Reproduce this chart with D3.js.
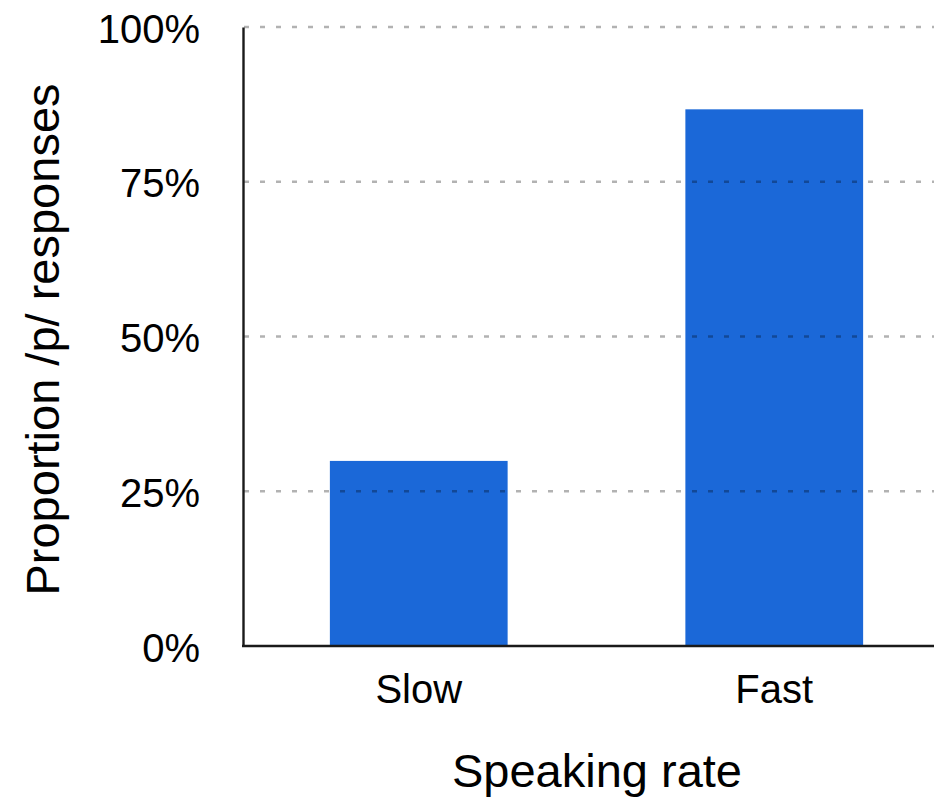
<!DOCTYPE html>
<html>
<head>
<meta charset="utf-8">
<script src="https://cdn.jsdelivr.net/npm/d3@7"></script>
<style>
  html, body { margin: 0; padding: 0; background: #fff; }
  svg { display: block; font-family: "Liberation Sans", Arial, Helvetica, sans-serif; }
</style>
</head>
<body>
<svg id="chart" width="934" height="798"></svg>
<script>
// Share of /p/ responses by speaking rate
const categories = ["Slow", "Fast"];
const proportions = [0.299, 0.867];
const yTicks = [0, 0.25, 0.5, 0.75, 1];
const xTitle = "Speaking rate";
const yTitle = "Proportion /p/ responses";

const W = 934, H = 798;
const plot = { left: 242, right: 952, top: 27, bottom: 646 };

const svg = d3.select("#chart");

const x = d3.scaleBand()
  .domain(categories)
  .range([plot.left - 1, plot.right])
  .paddingInner(0.5)
  .paddingOuter(0.25);

const y = d3.scaleLinear()
  .domain([0, 1])
  .range([plot.bottom, plot.top]);

// bars
svg.append("g")
  .selectAll("rect")
  .data(categories.map((c, i) => ({ c, v: proportions[i] })))
  .join("rect")
  .attr("x", d => x(d.c))
  .attr("y", d => y(d.v))
  .attr("width", x.bandwidth())
  .attr("height", d => y(0) - y(d.v))
  .attr("fill", "#1b68d8");

// dashed grid lines, drawn above the bars
svg.append("g")
  .selectAll("line")
  .data(yTicks.filter(t => t > 0))
  .join("line")
  .attr("x1", plot.left + 2)
  .attr("x2", W)
  .attr("y1", d => y(d))
  .attr("y2", d => y(d))
  .attr("stroke", "#000")
  .attr("stroke-opacity", 0.3)
  .attr("stroke-width", 2.5)
  .attr("stroke-dasharray", "5,11");

// y axis
const yAxis = svg.append("g")
  .attr("transform", `translate(${plot.left + 1},0)`)
  .call(d3.axisLeft(y).tickValues(yTicks).tickFormat(d3.format(".0%")).tickSize(0).tickPadding(43));
yAxis.select(".domain").attr("stroke", "#1a1a1a").attr("stroke-width", 2.4);
yAxis.selectAll("text")
  .attr("font-size", 40)
  .attr("fill", "#000")
  .attr("dy", "0.38em");

// x axis
const xAxis = svg.append("g")
  .attr("transform", `translate(0,${plot.bottom})`)
  .call(d3.axisBottom(x).tickSize(0).tickPadding(29));
xAxis.select(".domain").attr("d", `M${plot.left},0H${W}`).attr("stroke", "#1a1a1a").attr("stroke-width", 2.4);
xAxis.selectAll("text")
  .attr("font-size", 40)
  .attr("fill", "#000")
  .attr("dy", "0.71em");

// axis titles
svg.append("text")
  .attr("x", (plot.left + plot.right) / 2)
  .attr("y", 787)
  .attr("text-anchor", "middle")
  .attr("font-size", 47)
  .attr("fill", "#000")
  .text(xTitle);

svg.append("text")
  .attr("transform", `translate(59,${(plot.top + plot.bottom) / 2 + 3}) rotate(-90)`)
  .attr("text-anchor", "middle")
  .attr("font-size", 47)
  .attr("fill", "#000")
  .text(yTitle);
</script>
</body>
</html>
